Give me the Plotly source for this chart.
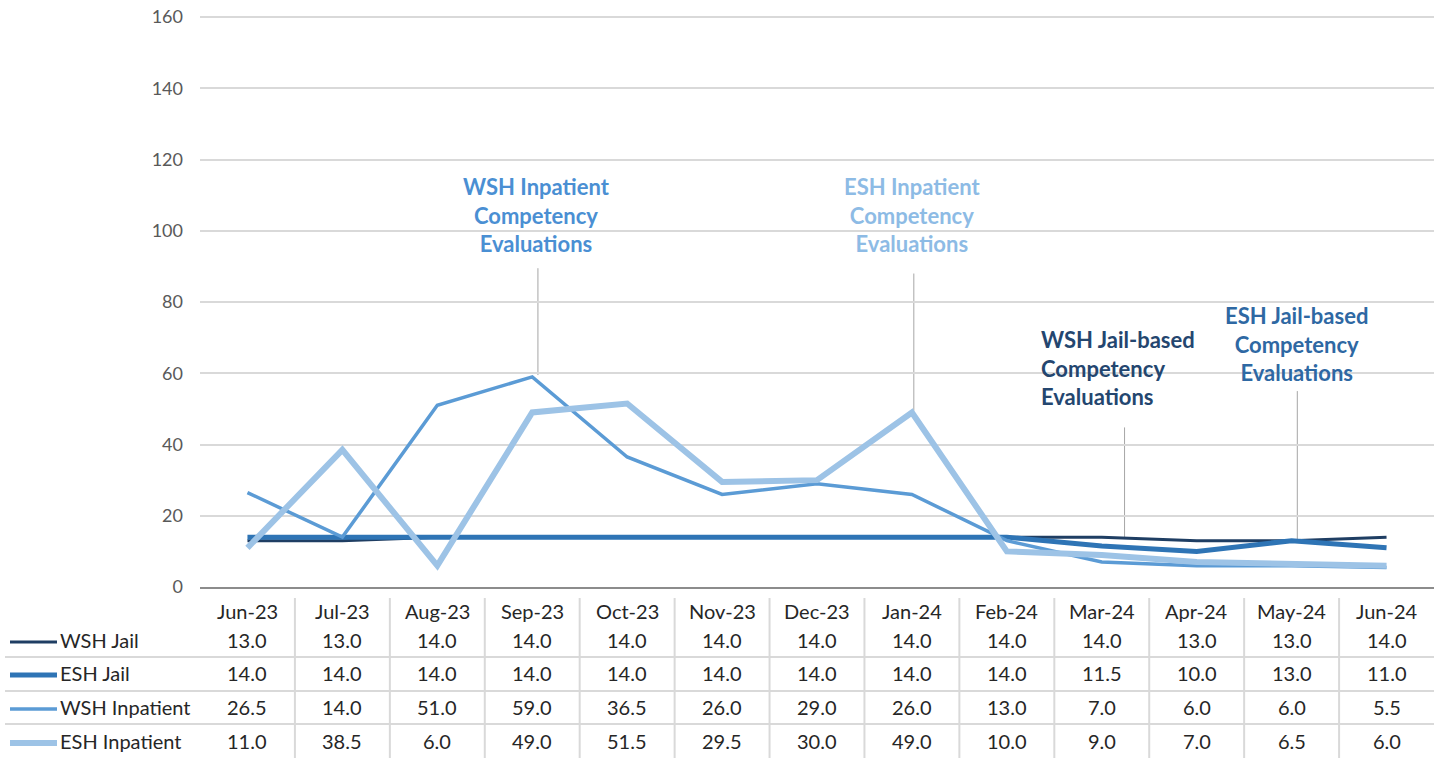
import plotly.graph_objects as go

months = ["Jun-23", "Jul-23", "Aug-23", "Sep-23", "Oct-23", "Nov-23", "Dec-23",
          "Jan-24", "Feb-24", "Mar-24", "Apr-24", "May-24", "Jun-24"]
series_names = ["WSH Jail", "ESH Jail", "WSH Inpatient", "ESH Inpatient"]
wsh_jail = [13.0, 13.0, 14.0, 14.0, 14.0, 14.0, 14.0, 14.0, 14.0, 14.0, 13.0, 13.0, 14.0]
esh_jail = [14.0, 14.0, 14.0, 14.0, 14.0, 14.0, 14.0, 14.0, 14.0, 11.5, 10.0, 13.0, 11.0]
wsh_inpatient = [26.5, 14.0, 51.0, 59.0, 36.5, 26.0, 29.0, 26.0, 13.0, 7.0, 6.0, 6.0, 5.5]
esh_inpatient = [11.0, 38.5, 6.0, 49.0, 51.5, 29.5, 30.0, 49.0, 10.0, 9.0, 7.0, 6.5, 6.0]
y_ticks = [0, 20, 40, 60, 80, 100, 120, 140, 160]

series_values = [wsh_jail, esh_jail, wsh_inpatient, esh_inpatient]
colors = ["#1f3e63", "#2e74b5", "#5b9bd5", "#9dc3e6"]
widths = [3, 5, 3.5, 6]

W, H = 1444, 758
FONT = "Lato"


def py(px):
    return 1 - px / H


fig = go.Figure()
for name, vals, c, w in zip(series_names, series_values, colors, widths):
    fig.add_trace(go.Scatter(x=months, y=vals, mode="lines", name=name,
                             line=dict(color=c, width=w), showlegend=False))

x0, x1 = 200, 1434
fig.update_layout(
    width=W, height=H,
    margin=dict(l=0, r=0, t=0, b=0, autoexpand=False),
    paper_bgcolor="white", plot_bgcolor="white",
    font=dict(family=FONT, color="#262626"),
    xaxis=dict(domain=[x0 / W, x1 / W], type="category", range=[-0.5, 12.5],
               showticklabels=False, showgrid=False, zeroline=False, automargin=False,
               showline=True, linecolor="#8c8c8c", linewidth=2, ticks=""),
    yaxis=dict(domain=[py(587), py(16)], range=[0, 160.3], tickvals=y_ticks,
               showgrid=True, gridcolor="#d9d9d9", gridwidth=2, zeroline=False,
               automargin=False,
               tickfont=dict(size=18, color="#595959", family=FONT),
               ticks="", ticklabelstandoff=16),
)

annotations = []
shapes = []

# Data table header and values
row_y = [640, 673, 707, 741]
for i, m in enumerate(months):
    annotations.append(dict(x=i, y=py(611), xref="x", yref="paper", text=m,
                            showarrow=False, yanchor="middle",
                            font=dict(size=20, color="#262626")))
    for r, vals in enumerate(series_values):
        annotations.append(dict(x=i, y=py(row_y[r]), xref="x", yref="paper",
                                text=f"{vals[i]:.1f}", showarrow=False, yanchor="middle",
                                font=dict(size=20, color="#262626")))

# Legend keys in table
for r, (name, c, w) in enumerate(zip(series_names, colors, widths)):
    shapes.append(dict(type="line", xref="paper", yref="paper",
                       x0=10 / W, x1=57 / W, y0=py(row_y[r] + 2), y1=py(row_y[r] + 2),
                       line=dict(color=c, width=w)))
    annotations.append(dict(x=58 / W, y=py(row_y[r]), xref="paper", yref="paper",
                            text=name, showarrow=False, xanchor="left", yanchor="middle",
                            font=dict(size=20, color="#262626")))

# Table gridlines
for yy in [657, 691, 724]:
    shapes.append(dict(type="line", xref="paper", yref="paper",
                       x0=5 / W, x1=x1 / W, y0=py(yy), y1=py(yy),
                       line=dict(color="#d9d9d9", width=2)))
for k in range(12):
    shapes.append(dict(type="line", xref="x", yref="paper",
                       x0=k + 0.5, x1=k + 0.5, y0=py(598), y1=0,
                       line=dict(color="#d9d9d9", width=2)))

# Callout labels
callouts = [
    ("WSH Inpatient<br>Competency<br>Evaluations", 3.05, 104.5, "#4a8fd3", "center", 3.06, 89.5, 59.5),
    ("ESH Inpatient<br>Competency<br>Evaluations", 7.0, 104.5, "#8dbbe5", "center", 7.02, 88.0, 49.5),
    ("WSH Jail-based<br>Competency<br>Evaluations", 9.17, 61.6, "#24466f", "left", 9.24, 44.8, 14.0),
    ("ESH Jail-based<br>Competency<br>Evaluations", 11.05, 68.3, "#2e68a3", "center", 11.06, 55.0, 13.0),
]
for text, cx, cy, col, align, lx, ly0, ly1 in callouts:
    annotations.append(dict(x=cx, y=cy, xref="x", yref="y", text=text, showarrow=False,
                            align=align, yanchor="middle",
                            font=dict(size=22, color=col, family=FONT, weight="bold")))
    shapes.append(dict(type="line", xref="x", yref="y", x0=lx, x1=lx, y0=ly0, y1=ly1,
                       line=dict(color="#a6a6a6", width=1), layer="below"))

fig.update_layout(annotations=annotations, shapes=shapes)
fig.write_html("out.html", config={"displayModeBar": False},
               post_script="document.body.style.margin='0';document.body.style.overflow='hidden';")
